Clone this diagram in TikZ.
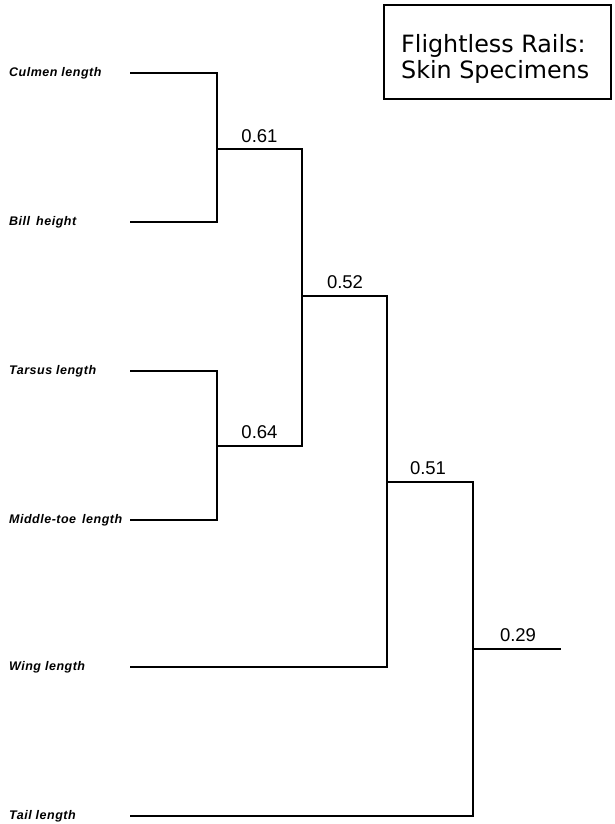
\documentclass[tikz,border=0pt]{standalone}
\usepackage{fontspec}
\setmainfont{Liberation Sans}
\newfontfamily\labfont[LetterSpace=4]{Liberation Sans}
\newfontfamily\titfont{DejaVu Sans}
\begin{document}
\begin{tikzpicture}[x=1bp,y=-1bp,
  leaf/.style={anchor=west,inner sep=0pt,font=\labfont\bfseries\itshape\fontsize{12.5bp}{14bp}\selectfont},
  val/.style={anchor=base,inner sep=0pt,font=\fontsize{18.5bp}{21bp}\selectfont},
  link/.style={line width=1.5bp,line cap=rect,line join=miter},
  titlebox/.style={draw,line width=1.8bp,minimum width=227bp,minimum height=94bp,inner sep=0pt},
  titletext/.style={anchor=base west,inner sep=0pt,align=left,font=\titfont\fontsize{23.8bp}{26bp}\selectfont}]
\useasboundingbox (0,0) rectangle (615,824);
% title
\node[titlebox] (tbox) at (497.5,52) {};
\node[titletext] (title1) at (401,52) {Flightless Rails:};
\node[titletext] (title2) at (401,78) {Skin Specimens};
% leaves
\node[leaf] (culmen) at (9,73) {Culmen length};
\node[leaf] (bill) at (9,222) {Bill\, height};
\node[leaf] (tarsus) at (9,371) {Tarsus length};
\node[leaf] (toe) at (9,520) {Middle-toe\, length};
\node[leaf] (wing) at (9,667) {Wing length};
\node[leaf] (tail) at (9,816) {Tail length};
% leaf line starts
\coordinate (lc) at (131,73);
\coordinate (lb) at (131,222);
\coordinate (lt) at (131,371);
\coordinate (lm) at (131,520);
\coordinate (lw) at (131,667);
\coordinate (ll) at (131,816);
% joins
\coordinate (j1) at (217,149);
\coordinate (j2) at (217,446);
\coordinate (j3) at (302,296);
\coordinate (j4) at (387,482);
\coordinate (j5) at (473,649);
\coordinate (root) at (560,649);
% clusters
\draw[link] (lc) -| (j1) |- (lb);
\draw[link] (lt) -| (j2) |- (lm);
\draw[link] (j1) -| (j3) |- (j2);
\draw[link] (j3) -| (j4) |- (lw);
\draw[link] (j4) -| (j5) |- (ll);
\draw[link] (j5) -- (root);
% values
\node[val] (v1) at (259.5,142) {0.61};
\node[val] (v2) at (259.5,438) {0.64};
\node[val] (v3) at (345,288) {0.52};
\node[val] (v4) at (428,474) {0.51};
\node[val] (v5) at (518,641) {0.29};
\end{tikzpicture}
\end{document}
